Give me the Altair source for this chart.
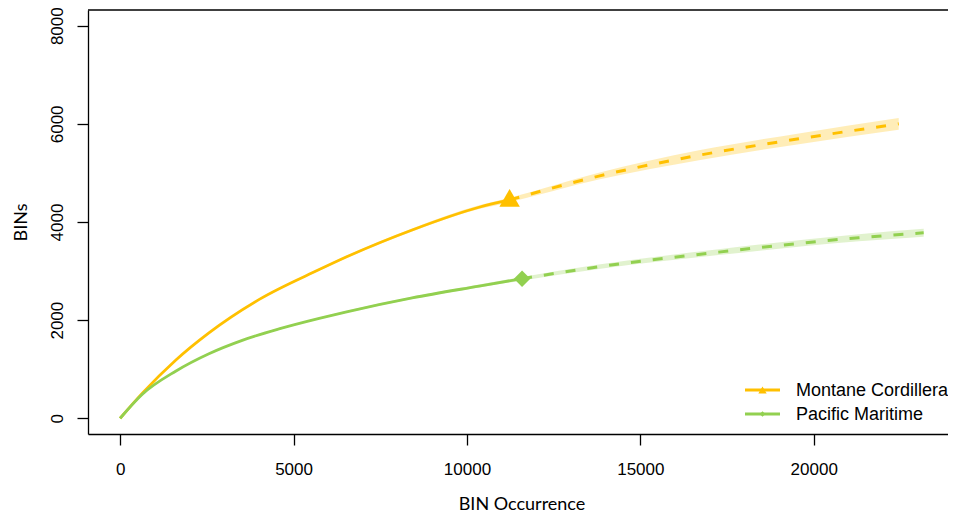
import altair as alt
import pandas as pd

# ---------------- data ----------------
regions = ["Montane Cordillera", "Pacific Maritime"]
colors = ["#FFC000", "#92D050"]

# Montane Cordillera – rarefaction (solid)
mc_rare_x = [0, 640, 1600, 2560, 4000, 5740, 6500, 8420, 10350, 11230]
mc_rare_y = [0, 512, 1184, 1741, 2418, 3030, 3281, 3838, 4301, 4450]
mc_rare_hw = [0, 8, 12, 15, 18, 22, 25, 30, 38, 45]
# Montane Cordillera – extrapolation (dashed)
mc_extr_x = [11230, 13800, 16690, 19570, 22450]
mc_extr_y = [4450, 4935, 5360, 5695, 6000]
mc_extr_hw = [45, 70, 100, 110, 120]

# Pacific Maritime – rarefaction (solid)
pm_rare_x = [0, 640, 1600, 2560, 3520, 4580, 5740, 6500, 8420, 10350, 11590]
pm_rare_y = [0, 490, 960, 1316, 1589, 1822, 2037, 2165, 2453, 2694, 2845]
pm_rare_hw = [0, 6, 10, 12, 14, 16, 18, 20, 24, 30, 35]
# Pacific Maritime – extrapolation (dashed)
pm_extr_x = [11590, 13800, 17260, 21300, 23170]
pm_extr_y = [2845, 3088, 3386, 3680, 3780]
pm_extr_hw = [35, 45, 60, 72, 80]

# observed points
obs_x = [11230, 11590]
obs_y = [4450, 2845]

x_ticks = [0, 5000, 10000, 15000, 20000]
y_ticks = [0, 2000, 4000, 6000, 8000]

# ---------------- tables ----------------
def seg(region, seg_name, xs, ys, hws):
    return pd.DataFrame({
        "region": region, "segment": seg_name, "x": xs, "y": ys,
        "lo": [y - h for y, h in zip(ys, hws)],
        "hi": [y + h for y, h in zip(ys, hws)],
    })

df = pd.concat([
    seg(regions[0], "rare", mc_rare_x, mc_rare_y, mc_rare_hw),
    seg(regions[0], "extr", mc_extr_x, mc_extr_y, mc_extr_hw),
    seg(regions[1], "rare", pm_rare_x, pm_rare_y, pm_rare_hw),
    seg(regions[1], "extr", pm_extr_x, pm_extr_y, pm_extr_hw),
], ignore_index=True)

band_df = df.drop_duplicates(subset=["region", "x"]).sort_values(["region", "x"])
obs_df = pd.DataFrame({"region": regions, "x": obs_x, "y": obs_y})

# plot area: same px-per-unit as the reference, right edge cut at the page edge
W, H = 860, 424

xscale = alt.Scale(domain=[-927, 23871], nice=False, zero=False)
yscale = alt.Scale(domain=[-320, 8320], nice=False, zero=False)
cscale = alt.Scale(domain=regions, range=colors)

x_axis = alt.Axis(
    values=x_ticks, format="d", grid=False, tickSize=11, tickWidth=1.3,
    tickColor="black", domainColor="black", domainWidth=1.3,
    labelFont="Liberation Sans", labelFontSize=17, labelColor="black",
    labelPadding=16, labelFlush=False, labelOverlap=False,
    title="BIN Occurrence", titleFont="Lato", titleFontSize=18,
    titleFontWeight="normal", titleColor="black", titleY=75,
    titleX=433.5, titleAlign="center",
    titleBaseline="alphabetic",
)
y_axis = alt.Axis(
    values=y_ticks, format="d", grid=False, tickSize=11, tickWidth=1.3,
    tickColor="black", domainColor="black", domainWidth=1.3,
    labelFont="Liberation Sans", labelFontSize=17, labelColor="black",
    labelAngle=270, labelAlign="center", labelBaseline="alphabetic",
    labelPadding=15, labelFlush=False, labelOverlap=False,
    title="BINs", titleFont="Lato", titleFontSize=18, titleFontWeight="normal",
    titleColor="black", titleAngle=270, titleX=-62, titleY=H / 2,
    titleAlign="center", titleBaseline="alphabetic",
)

X = alt.X("x:Q", scale=xscale, axis=x_axis)
Y = alt.Y("y:Q", scale=yscale, axis=y_axis)
C = alt.Color("region:N", scale=cscale, legend=None)

band = alt.Chart(band_df).mark_area(opacity=0.28, interpolate="monotone", clip=True).encode(
    x=alt.X("x:Q", scale=xscale, axis=x_axis),
    y=alt.Y("lo:Q", scale=yscale, axis=y_axis),
    y2="hi:Q",
    color=C,
    detail="region:N",
)

solid = alt.Chart(df[df.segment == "rare"]).mark_line(
    interpolate="monotone", strokeWidth=2.8, clip=True
).encode(x=X, y=Y, color=C, detail="region:N")

dashed = alt.Chart(df[df.segment == "extr"]).mark_line(
    interpolate="monotone", strokeWidth=3, strokeDash=[10, 12], clip=True
).encode(x=X, y=Y, color=C, detail="region:N")

tri = alt.Chart(obs_df[obs_df.region == regions[0]]).mark_point(
    shape="triangle-up", filled=True, size=420, opacity=1, yOffset=-2
).encode(x=X, y=Y, color=C)
dia = alt.Chart(obs_df[obs_df.region == regions[1]]).mark_point(
    shape="diamond", filled=True, size=270, opacity=1
).encode(x=X, y=Y, color=C)

one = pd.DataFrame({"a": [0]})
top_rule = alt.Chart(one).mark_rule(color="black", strokeWidth=1.3).encode(
    x=alt.value(0), x2=alt.value(W), y=alt.value(0)
)

# ---------------- legend (bottom-right, inside plot) ----------------
leg_layers = []
leg_rows = [(regions[0], colors[0], "triangle-up", 70, 380),
            (regions[1], colors[1], "diamond", 30, 404)]
for name, col, shp, sz, yy in leg_rows:
    leg_layers.append(alt.Chart(one).mark_rule(color=col, strokeWidth=2.8).encode(
        x=alt.value(657), x2=alt.value(692), y=alt.value(yy)))
    leg_layers.append(alt.Chart(one).mark_point(
        shape=shp, filled=True, size=sz, color=col, opacity=1).encode(
        x=alt.value(674.5), y=alt.value(yy)))
    leg_layers.append(alt.Chart(one).mark_text(
        text=name, align="left", baseline="middle", font="Liberation Sans",
        fontSize=18, color="black").encode(x=alt.value(708), y=alt.value(yy + 1)))

chart = alt.layer(band, solid, dashed, tri, dia, top_rule, *leg_layers).properties(
    width=W, height=H,
    autosize=alt.AutoSizeParams(type="none"),
    padding={"left": 80, "top": 2, "right": 0, "bottom": 80},
).configure_view(stroke=None)

chart.save("out.html", embed_options={"renderer": "svg", "actions": False})
